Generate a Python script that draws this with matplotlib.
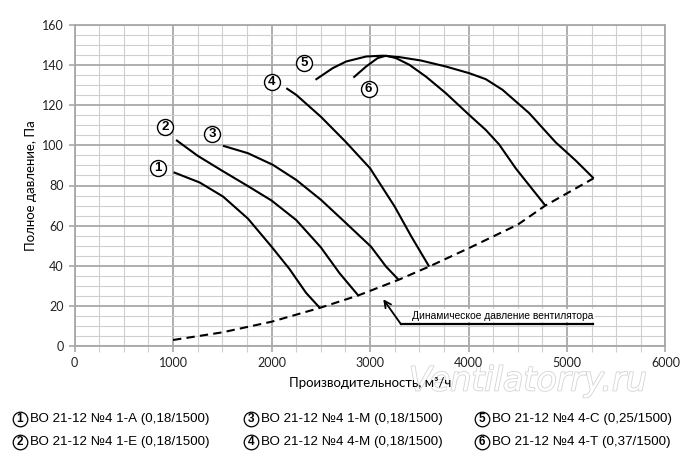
import matplotlib
matplotlib.use("Agg")
import matplotlib.pyplot as plt
import matplotlib.patheffects as pe
from matplotlib.ticker import MultipleLocator

# fan curves (x: m3/h, y: Pa)
c1_x = [1005, 1270, 1507, 1760, 2000, 2180, 2350, 2490]
c1_y = [86.6, 81.5, 74.5, 63.5, 49.5, 38.5, 26.5, 19.0]
c2_x = [1030, 1250, 1500, 1750, 2000, 2250, 2500, 2690, 2880]
c2_y = [102.7, 94.8, 87.3, 80.0, 72.5, 62.8, 49.2, 36.3, 25.2]
c3_x = [1507, 1760, 2013, 2250, 2503, 2757, 3010, 3162, 3290]
c3_y = [99.8, 96.1, 90.3, 82.8, 72.8, 61.2, 49.5, 39.6, 33.0]
c4_x = [2150, 2250, 2500, 2750, 3000, 3250, 3420, 3500, 3600]
c4_y = [128.5, 125.2, 114.3, 101.9, 88.6, 69.5, 54.5, 47.9, 39.6]
c5_x = [2446, 2621, 2757, 2960, 3128, 3297, 3517, 3770, 4006, 4175, 4345,
        4615, 4885, 5087, 5270]
c5_y = [132.7, 138.5, 141.8, 144.3, 144.7, 144.0, 142.3, 139.3, 136.0, 133.0,
        127.7, 116.1, 101.5, 92.5, 83.6]
c6_x = [2831, 2960, 3077, 3162, 3263, 3398, 3567, 3770, 4006, 4175, 4310,
        4480, 4780]
c6_y = [133.8, 139.3, 143.5, 144.7, 143.5, 140.2, 134.3, 126.0, 115.2, 107.7,
        100.5, 88.5, 70.0]

# dynamic pressure line
dyn_x = [1000, 1500, 2000, 2490, 2880, 3290, 3600, 4000, 4500, 4780, 5270]
dyn_y = [3.0, 6.8, 12.1, 19.0, 25.2, 33.0, 39.6, 48.7, 60.5, 70.0, 83.6]

curve_ids = ["1", "2", "3", "4", "5", "6"]
label_x = [848, 919, 1399, 2003, 2334, 2986]
label_y = [88.9, 109.1, 105.7, 131.8, 141.0, 128.0]

legend_labels = [
    "ВО 21-12 №4 1-А (0,18/1500)",
    "ВО 21-12 №4 1-Е (0,18/1500)",
    "ВО 21-12 №4 1-М (0,18/1500)",
    "ВО 21-12 №4 4-М (0,18/1500)",
    "ВО 21-12 №4 4-С (0,25/1500)",
    "ВО 21-12 №4 4-Т (0,37/1500)",
]

dyn_label = "Динамическое давление вентилятора"
xlabel = "Производительность, м³/ч"
ylabel = "Полное давление, Па"
watermark = "Ventilatorry.ru"

NARROW = ["Liberation Sans", "DejaVu Sans"]
AXFONT = ["Lato", "DejaVu Sans"]

fig = plt.figure(figsize=(7, 4.68), dpi=100)
ax = fig.add_axes([74.6 / 700, 1 - 346 / 468, 590.9 / 700, 321 / 468])

ax.set_xlim(0, 6000)
ax.set_ylim(0, 160)
ax.xaxis.set_major_locator(MultipleLocator(1000))
ax.xaxis.set_minor_locator(MultipleLocator(250))
ax.yaxis.set_major_locator(MultipleLocator(20))
ax.yaxis.set_minor_locator(MultipleLocator(5))
ax.grid(which="major", color="#a8a8a8", linewidth=1.3)
ax.grid(which="minor", color="#cfcfcf", linewidth=0.8)
ax.set_axisbelow(True)
for s in ax.spines.values():
    s.set_color("#a8a8a8")
    s.set_linewidth(1.3)
ax.tick_params(which="major", direction="out", length=4, width=1.2,
               color="#a8a8a8", labelsize=9, pad=4, labelcolor="#222222")
ax.tick_params(axis="x", which="minor", direction="out", length=4, width=0.8,
               color="#cfcfcf")
ax.tick_params(axis="y", which="minor", length=0)
for lbl in ax.get_xticklabels() + ax.get_yticklabels():
    lbl.set_family(AXFONT)

curves = [(c1_x, c1_y), (c2_x, c2_y), (c3_x, c3_y),
          (c4_x, c4_y), (c5_x, c5_y), (c6_x, c6_y)]
for cx, cy in curves:
    ax.plot(cx, cy, color="black", linewidth=1.5, solid_capstyle="butt",
            solid_joinstyle="round")

ax.plot(dyn_x, dyn_y, color="black", linewidth=1.5, linestyle=(0, (4, 2.5)))

# numbered circles next to the curves
for cid, lx, ly in zip(curve_ids, label_x, label_y):
    ax.plot(lx, ly, marker="o", markersize=11.5, markerfacecolor="white",
            markeredgecolor="black", markeredgewidth=1.0)
    ax.text(lx, ly, cid, ha="center", va="center", fontsize=9.5,
            fontweight="bold", family=NARROW)

# callout for dynamic pressure
ax.plot([3315, 5268], [10.8, 10.8], color="black", linewidth=1.6)
ax.annotate("", xy=(3134, 23.3), xytext=(3315, 10.8),
            arrowprops=dict(arrowstyle="->", color="black", lw=1.3,
                            shrinkA=0, shrinkB=0, mutation_scale=12))
ax.text(3430, 15.2, dyn_label, ha="left", va="center", fontsize=7.4,
        family=NARROW,
        bbox=dict(facecolor="white", edgecolor="none", pad=1.0))

ax.set_xlabel(xlabel, fontsize=9.5, family=AXFONT, labelpad=6)
ax.set_ylabel(ylabel, fontsize=9.5, family=AXFONT, labelpad=3)

fig.text(528 / 700, 1 - 381 / 468, watermark, ha="center", va="center",
         fontsize=24, fontstyle="italic", color="white", zorder=-1,
         path_effects=[pe.withStroke(linewidth=1.2, foreground="#d4d4d4")])

# legend below the chart
ov = fig.add_axes([0, 0, 1, 1])
ov.set_xlim(0, 700)
ov.set_ylim(468, 0)
ov.axis("off")
ov.patch.set_visible(False)
col_x = [20, 251, 482]
row_y = [419, 442]
for i, (cid, text) in enumerate(zip(curve_ids, legend_labels)):
    cx = col_x[i // 2]
    cy = row_y[i % 2]
    ov.plot(cx, cy, marker="o", markersize=10.5, markerfacecolor="white",
            markeredgecolor="black", markeredgewidth=0.9)
    ov.text(cx, cy, cid, ha="center", va="center", fontsize=8.5,
            fontweight="bold", family=NARROW)
    ov.text(cx + 10, cy, text, ha="left", va="center", fontsize=9.6,
            family=NARROW)

fig.savefig("out.png", dpi=100)
